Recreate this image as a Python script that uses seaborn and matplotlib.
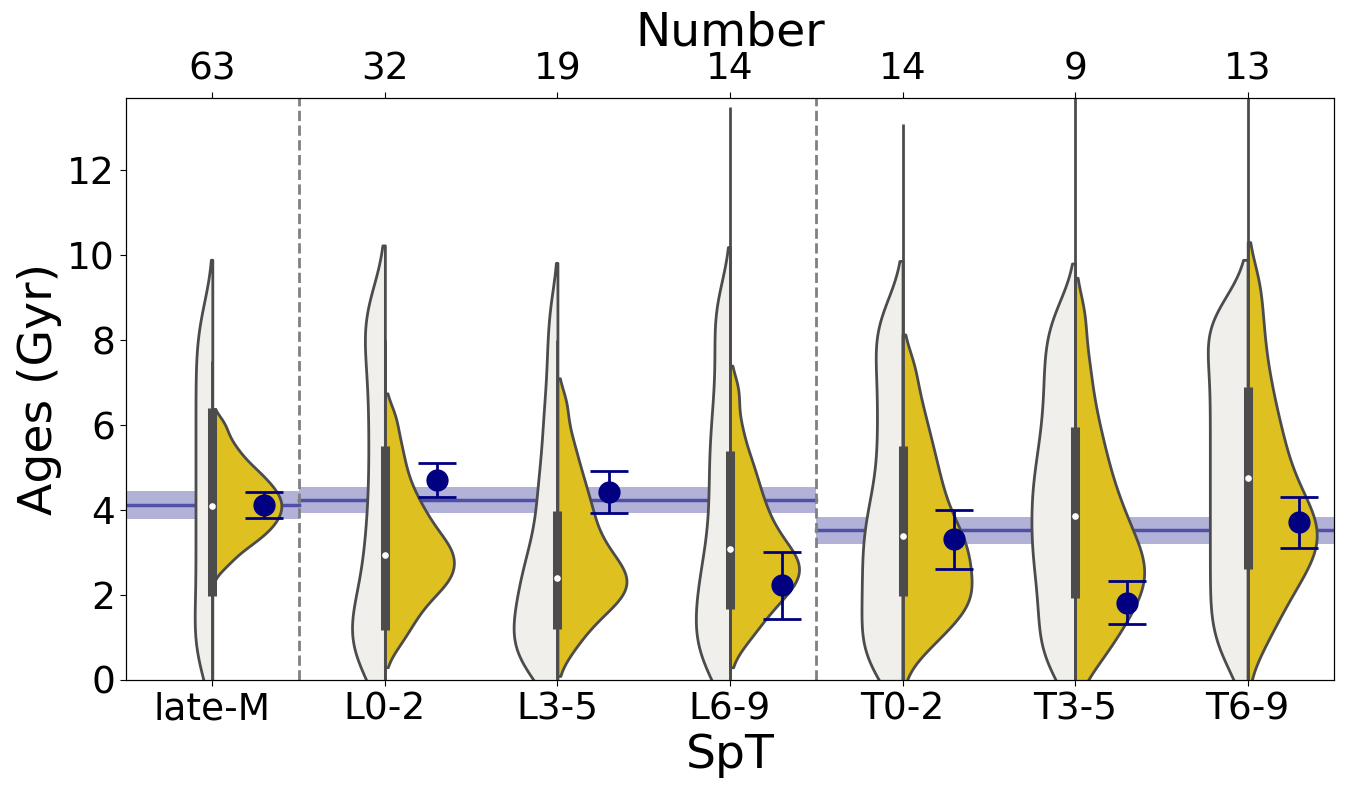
import numpy as np
import pandas as pd
import matplotlib
matplotlib.use('Agg')
from matplotlib import pyplot as plt
import seaborn as sns

spt = ['late-M', 'L0-2', 'L3-5', 'L6-9', 'T0-2', 'T3-5', 'T6-9']
numbers = [63, 32, 19, 14, 14, 9, 13]

# age samples (Gyr): left half (grey) and right half (gold)
grey_lateM = [0.15, 0.5, 0.75, 0.95, 1.2, 1.5, 1.8, 2.1, 2.4, 2.7, 3.0, 3.3, 3.6, 3.9, 4.2,
              4.5, 4.8, 5.1, 5.4, 5.7, 6.0, 6.3, 6.6, 6.9, 7.2, 7.5, 7.8, 8.1, 8.45, 8.8]
grey_L02 = [0.1, 0.35, 0.55, 0.75, 0.9, 1.05, 1.2, 1.4, 1.6, 1.85, 2.15, 2.45, 2.8, 3.15, 3.5,
            3.9, 4.35, 4.8, 5.25, 5.7, 6.15, 6.6, 7.05, 7.45, 7.85, 8.2, 8.5, 8.75, 9.0]
grey_L35 = [0.1, 0.25, 0.4, 0.55, 0.7, 0.85, 1.0, 1.15, 1.3, 1.45, 1.65, 1.85, 2.0, 2.2, 2.4,
            2.6, 2.8, 3.0, 3.3, 3.65, 4.0, 4.35, 4.7, 5.1, 5.6, 6.1, 6.6, 7.3, 8.0, 8.8]
grey_L69 = [0.1, 0.3, 0.5, 0.7, 0.9, 1.1, 1.3, 1.5, 1.7, 1.9, 2.15, 2.4, 2.6, 2.85, 3.15,
            3.5, 3.85, 4.2, 4.55, 4.9, 5.25, 5.6, 5.95, 6.35, 6.8, 7.3, 7.8, 8.3, 8.75, 9.05]
grey_T02 = [0.1, 0.3, 0.5, 0.7, 0.95, 1.2, 1.45, 1.7, 1.95, 2.2, 2.45, 2.7, 2.95, 3.2, 3.45,
            3.7, 3.95, 4.25, 4.6, 5.0, 5.4, 5.8, 6.2, 6.6, 7.0, 7.4, 7.8, 8.1, 8.45, 8.75]
grey_T35 = [0.1, 0.4, 0.7, 1.0, 1.3, 1.6, 1.9, 2.2, 2.5, 2.75, 3.0, 3.25, 3.5, 3.75, 4.0,
            4.25, 4.5, 4.75, 5.0, 5.3, 5.6, 5.9, 6.25, 6.6, 6.95, 7.3, 7.65, 8.0, 8.4, 8.75]
grey_T69 = [0.3, 0.7, 1.0, 1.3, 1.6, 1.9, 2.2, 2.5, 2.8, 3.1, 3.4, 3.7, 4.0, 4.3, 4.6,
            4.9, 5.2, 5.5, 5.8, 6.1, 6.4, 6.7, 7.0, 7.3, 7.6, 7.9, 8.15, 8.4, 8.6, 8.8]

gold_lateM = [2.71, 2.97, 3.14, 3.26, 3.37, 3.46, 3.55, 3.64, 3.71, 3.79, 3.86, 3.94, 4.01,
              4.08, 4.15, 4.22, 4.29, 4.37, 4.44, 4.52, 4.6, 4.69, 4.79, 4.87, 5.0, 5.11,
              5.28, 5.45, 5.7, 6.04]
gold_L02 = [0.85, 1.2, 1.45, 1.65, 1.85, 2.0, 2.15, 2.25, 2.35, 2.45, 2.55, 2.65, 2.75, 2.85,
            2.95, 3.05, 3.15, 3.25, 3.35, 3.5, 3.65, 3.8, 3.95, 4.15, 4.35, 4.6, 4.9, 5.25,
            5.65, 6.2]
gold_L35 = [0.7, 1.05, 1.3, 1.5, 1.65, 1.8, 1.9, 2.0, 2.1, 2.2, 2.3, 2.4, 2.5, 2.6, 2.7,
            2.8, 2.95, 3.1, 3.25, 3.4, 3.6, 3.8, 4.0, 4.2, 4.45, 4.7, 5.0, 5.35, 5.8, 6.5]
gold_L69 = [0.9, 1.2, 1.45, 1.65, 1.8, 1.95, 2.1, 2.2, 2.3, 2.4, 2.5, 2.6, 2.7, 2.8, 2.9,
            3.0, 3.1, 3.25, 3.4, 3.55, 3.7, 3.9, 4.1, 4.3, 4.55, 4.8, 5.1, 5.45, 6.0, 6.8]
gold_T02 = [0.7, 1.0, 1.25, 1.45, 1.6, 1.75, 1.9, 2.0, 2.15, 2.3, 2.45, 2.6, 2.75, 2.9, 3.05,
            3.2, 3.35, 3.5, 3.7, 3.9, 4.1, 4.35, 4.6, 4.85, 5.15, 5.45, 5.8, 6.2, 6.7, 7.4]
gold_T35 = [0.35, 0.7, 1.0, 1.25, 1.45, 1.65, 1.85, 2.0, 2.15, 2.3, 2.45, 2.6, 2.75, 2.9, 3.05,
            3.2, 3.4, 3.6, 3.8, 4.0, 4.25, 4.5, 4.8, 5.1, 5.45, 5.85, 6.3, 6.9, 7.6, 8.6]
gold_T69 = [0.8, 1.3, 1.65, 1.95, 2.2, 2.4, 2.6, 2.8, 2.95, 3.1, 3.25, 3.4, 3.55, 3.7, 3.85,
            4.0, 4.2, 4.4, 4.6, 4.85, 5.1, 5.4, 5.7, 6.0, 6.4, 6.8, 7.3, 7.9, 8.6, 9.4]

# inner box (all samples together)
box_q1 = [1.98, 1.18, 1.2, 1.68, 1.98, 1.94, 2.62]
box_med = [4.09, 2.95, 2.4, 3.08, 3.38, 3.87, 4.75]
box_q3 = [6.4, 5.5, 3.97, 5.4, 5.5, 5.95, 6.9]
whisk_lo = [0, 0, 0, 0, 0, 0, 0]
whisk_hi = [7.5, 8.0, 8.0, 13.5, 13.1, 14.0, 14.0]

# mean ages with errors
mean_age = [4.12, 4.70, 4.42, 2.23, 3.31, 1.82, 3.71]
mean_lo = [3.82, 4.31, 3.92, 1.43, 2.62, 1.32, 3.11]
mean_hi = [4.43, 5.10, 4.91, 3.01, 4.00, 2.32, 4.31]

# group averages: late-M, L, T
grp_first = [0, 1, 4]
grp_last = [0, 3, 6]
grp_age = [4.12, 4.23, 3.52]
grp_lo = [3.80, 3.92, 3.21]
grp_hi = [4.44, 4.54, 3.83]

greys = [grey_lateM, grey_L02, grey_L35, grey_L69, grey_T02, grey_T35, grey_T69]
golds = [gold_lateM, gold_L02, gold_L35, gold_L69, gold_T02, gold_T35, gold_T69]
rows = []
for s, g, o in zip(spt, greys, golds):
    rows += [(s, a, 'prior') for a in g]
    rows += [(s, a, 'post') for a in o]
df = pd.DataFrame(rows, columns=['SpT', 'Age', 'kind'])

fig = plt.figure(figsize=(13.45, 7.85), dpi=100)
ax = fig.add_axes([0.0937, 0.1338, 0.8981, 0.7412])

# one call per spectral type so both halves share the same density scale
for s in spt:
    sns.violinplot(data=df[df['SpT'] == s], x='SpT', y='Age', hue='kind', order=spt,
                   hue_order=['prior', 'post'], split=True, inner=None,
                   palette=['#f0efeb', '#dec021'], saturation=1, linecolor='#4c4c4c',
                   linewidth=2, bw_adjust=0.55, cut=1.5, common_norm=True,
                   legend=False, ax=ax)

pos = np.arange(len(spt))
ax.vlines(pos, whisk_lo, whisk_hi, color='#4c4c4c', lw=2, zorder=3)
ax.vlines(pos, box_q1, box_q3, color='#4c4c4c', lw=6.5, zorder=3)
ax.scatter(pos, box_med, s=14, color='white', zorder=4)

for i in range(3):
    xs = [grp_first[i] - 0.5, grp_last[i] + 0.5]
    ax.fill_between(xs, grp_lo[i], grp_hi[i], color='navy', alpha=0.3, lw=0, zorder=0.5)
    ax.plot(xs, [grp_age[i]] * 2, color='navy', alpha=0.55, lw=2.5, zorder=0.6)

for x in [0.5, 3.5]:
    ax.axvline(x, color='grey', ls='--', lw=2, zorder=0.7)

yerr = [np.array(mean_age) - np.array(mean_lo), np.array(mean_hi) - np.array(mean_age)]
ax.errorbar(pos + 0.3, mean_age, yerr=yerr, fmt='o', color='navy', ms=15,
            capsize=14, elinewidth=2, capthick=2, zorder=5)

ax.set_xlim(-0.5, 6.5)
ax.set_ylim(0, 13.7)
ax.set_yticks([0, 2, 4, 6, 8, 10, 12])
ax.tick_params(labelsize=27, length=4.5)
ax.set_xlabel('SpT', fontsize=34)
ax.set_ylabel('Ages (Gyr)', fontsize=34)

top = ax.twiny()
top.set_xlim(ax.get_xlim())
top.set_xticks(pos)
top.set_xticklabels([str(n) for n in numbers])
top.tick_params(labelsize=27, length=4.5)
top.set_xlabel('Number', fontsize=34, labelpad=4)

fig.savefig('out.png', dpi=100)
